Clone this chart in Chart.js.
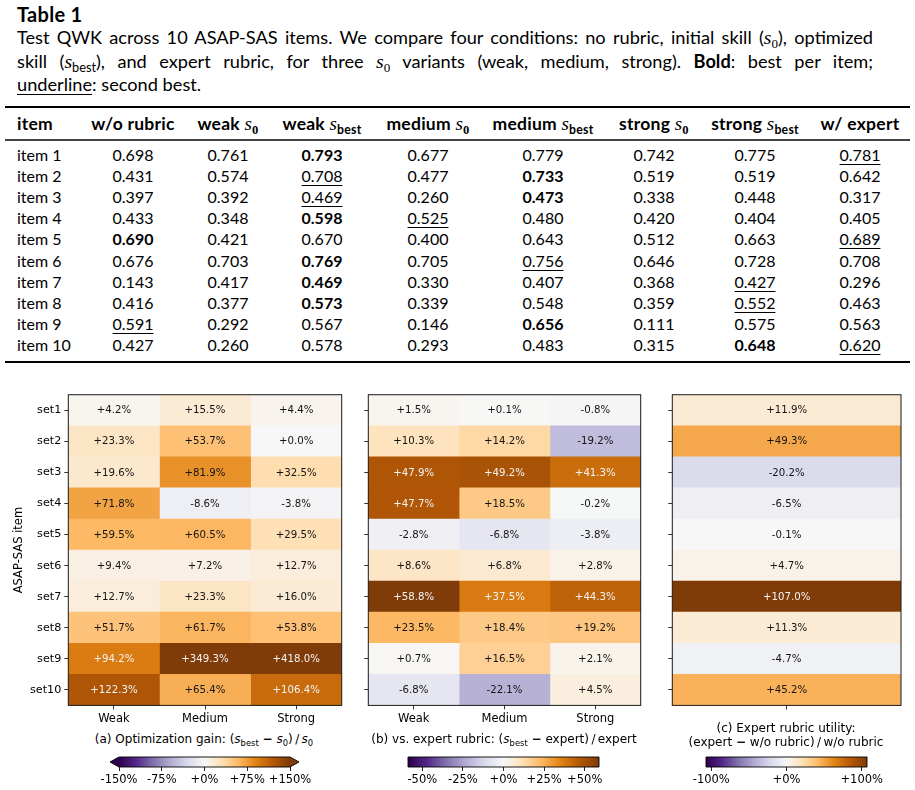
<!DOCTYPE html>
<html><head><meta charset="utf-8">
<script src="https://cdn.jsdelivr.net/npm/chart.js@4.4.1/dist/chart.umd.min.js"></script>
<style>
html,body{margin:0;padding:0;background:#fff;}
#page{position:relative;width:915px;height:790px;overflow:hidden;font-family:Lato,"Open Sans",sans-serif;color:#000;}
.abs{position:absolute;white-space:nowrap;}
.cap{position:absolute;left:17px;width:856px;font-size:18.2px;line-height:23px;text-align:justify;text-align-last:justify;}
.cap.last{text-align-last:left;}
.m{font-family:"Liberation Serif","DejaVu Serif",serif;font-style:italic;font-size:1.08em;}
.sub0{font-family:"Liberation Serif",serif;font-style:normal;font-size:0.72em;vertical-align:-0.28em;}
.subb{font-size:0.7em;vertical-align:-0.3em;}
.rule{position:absolute;left:5px;width:905px;background:#000;}
.cell{position:absolute;height:22px;line-height:22px;font-size:16px;white-space:nowrap;transform:translateX(-50%);}
.cell.left{transform:none;}
.hdr{font-weight:bold;font-size:17.5px;letter-spacing:0.25px;}
.hdr .m{font-weight:normal;}
.und{text-decoration:underline;text-decoration-thickness:1px;text-underline-offset:3px;}
canvas{position:absolute;}
.ptitle{position:absolute;font-family:"DejaVu Sans",sans-serif;font-size:12px;line-height:14px;text-align:center;white-space:nowrap;color:#000;}
.ptitle i{font-style:oblique;}
.ptitle sub{font-size:0.7em;vertical-align:-0.3em;line-height:0;}
.mn{font-weight:bold;}
</style>
</head><body>
<div id="page">
  <div class="abs" style="left:17px;top:2px;font-size:20px;font-weight:bold;line-height:24px;letter-spacing:0.3px;">Table 1</div>
  <div class="cap" style="top:26px;">Test QWK across 10 ASAP-SAS items. We compare four conditions: no rubric, initial skill (<span class="m">s</span><span class="sub0">0</span>), optimized</div>
  <div class="cap" style="top:49.5px;">skill (<span class="m">s</span><span class="subb">best</span>), and expert rubric, for three <span class="m">s</span><span class="sub0">0</span> variants (weak, medium, strong). <b>Bold</b>: best per item;</div>
  <div class="cap last" style="top:73px;"><span class="und">underline</span>: second best.</div>
  <div class="rule" style="top:106px;height:2px;"></div>
  <div class="rule" style="top:139px;height:1.5px;background:#444;"></div>
  <div class="rule" style="top:360.5px;height:2px;"></div>
  <div id="table"></div>

  <canvas id="heatA" width="350" height="346" style="left:0px;top:385px;"></canvas>
  <canvas id="heatB" width="300" height="346" style="left:350px;top:385px;"></canvas>
  <canvas id="heatC" width="265" height="346" style="left:650px;top:385px;"></canvas>

  <div class="ptitle" style="left:54px;width:300px;top:732px;">(a) Optimization gain: (<i>s</i><sub>best</sub> <span class="mn">−</span> <i>s</i><sub>0</sub>)&#8201;/&#8201;<i>s</i><sub>0</sub></div>
  <div class="ptitle" style="left:354px;width:300px;top:732px;">(b) vs. expert rubric: (<i>s</i><sub>best</sub> <span class="mn">−</span> expert)&#8201;/&#8201;expert</div>
  <div class="ptitle" style="left:636px;width:300px;top:721px;">(c) Expert rubric utility:<br>(expert <span class="mn">−</span> w/o rubric)&#8201;/&#8201;w/o rubric</div>

  <canvas id="cbarA" width="230" height="40" style="left:90px;top:750px;"></canvas>
  <canvas id="cbarB" width="250" height="40" style="left:380px;top:750px;"></canvas>
  <canvas id="cbarC" width="215" height="40" style="left:680px;top:750px;"></canvas>
</div>
<script>
// ---------------- DATA ----------------
const tableItems = ['item 1','item 2','item 3','item 4','item 5','item 6','item 7','item 8','item 9','item 10'];
const colWoRubric   = [0.698,0.431,0.397,0.433,0.690,0.676,0.143,0.416,0.591,0.427];
const colWeakS0     = [0.761,0.574,0.392,0.348,0.421,0.703,0.417,0.377,0.292,0.260];
const colWeakBest   = [0.793,0.708,0.469,0.598,0.670,0.769,0.469,0.573,0.567,0.578];
const colMediumS0   = [0.677,0.477,0.260,0.525,0.400,0.705,0.330,0.339,0.146,0.293];
const colMediumBest = [0.779,0.733,0.473,0.480,0.643,0.756,0.407,0.548,0.656,0.483];
const colStrongS0   = [0.742,0.519,0.338,0.420,0.512,0.646,0.368,0.359,0.111,0.315];
const colStrongBest = [0.775,0.519,0.448,0.404,0.663,0.728,0.427,0.552,0.575,0.648];
const colExpert     = [0.781,0.642,0.317,0.405,0.689,0.708,0.296,0.463,0.563,0.620];

const sets = ['set1','set2','set3','set4','set5','set6','set7','set8','set9','set10'];
const variants = ['Weak','Medium','Strong'];
const gainWeak   = [4.2, 23.3, 19.6, 71.8, 59.5, 9.4, 12.7, 51.7, 94.2, 122.3];
const gainMedium = [15.5, 53.7, 81.9, -8.6, 60.5, 7.2, 23.3, 61.7, 349.3, 65.4];
const gainStrong = [4.4, 0.0, 32.5, -3.8, 29.5, 12.7, 16.0, 53.8, 418.0, 106.4];
const vsExpertWeak   = [1.5, 10.3, 47.9, 47.7, -2.8, 8.6, 58.8, 23.5, 0.7, -6.8];
const vsExpertMedium = [0.1, 14.2, 49.2, 18.5, -6.8, 6.8, 37.5, 18.4, 16.5, -22.1];
const vsExpertStrong = [-0.8, -19.2, 41.3, -0.2, -3.8, 2.8, 44.3, 19.2, 2.1, 4.5];
const expertUtility  = [11.9, 49.3, -20.2, -6.5, -0.1, 4.7, 107.0, 11.3, -4.7, 45.2];
const gainTicks = [-150, -75, 0, 75, 150];
const vsExpertTicks = [-50, -25, 0, 25, 50];
const utilityTicks = [-100, 0, 100];

// ---------------- TABLE ----------------
const tableCols = [colWoRubric, colWeakS0, colWeakBest, colMediumS0, colMediumBest, colStrongS0, colStrongBest, colExpert];
const headerHtml = ['w/o rubric',
  'weak <span class="m">s</span><span class="sub0">0</span>',
  'weak <span class="m">s</span><span class="subb">best</span>',
  'medium <span class="m">s</span><span class="sub0">0</span>',
  'medium <span class="m">s</span><span class="subb">best</span>',
  'strong <span class="m">s</span><span class="sub0">0</span>',
  'strong <span class="m">s</span><span class="subb">best</span>',
  'w/ expert'];
const colCenters = [133, 228, 322, 428, 543, 654, 755, 860];
(function buildTable(){
  const t = document.getElementById('table');
  let html = '';
  const hy = 112.5;
  html += `<div class="cell left hdr" style="left:17px;top:${hy}px;">item</div>`;
  headerHtml.forEach((h,j)=>{ html += `<div class="cell hdr" style="left:${colCenters[j]}px;top:${hy}px;">${h}</div>`; });
  tableItems.forEach((it,i)=>{
    const y = 144 + i*21.1;
    html += `<div class="cell left" style="left:17px;top:${y}px;">${it}</div>`;
    const vals = tableCols.map(c=>c[i]);
    const sorted = [...new Set(vals)].sort((a,b)=>b-a);
    vals.forEach((v,j)=>{
      let cls = 'cell';
      let st = '';
      if (v === sorted[0]) st = 'font-weight:bold;';
      else if (v === sorted[1]) cls += ' und';
      html += `<div class="${cls}" style="left:${colCenters[j]}px;top:${y}px;${st}">${v.toFixed(3)}</div>`;
    });
  });
  t.innerHTML = html;
})();

// ---------------- COLORMAP (PuOr reversed) ----------------
const puorStops = ['#2d004b','#542788','#8073ac','#b2abd2','#d8daeb','#f7f7f7','#fee0b6','#fdb863','#e08214','#b35806','#7f3b08'];
function hex2rgb(h){return [parseInt(h.slice(1,3),16),parseInt(h.slice(3,5),16),parseInt(h.slice(5,7),16)];}
const puorRgb = puorStops.map(hex2rgb);
function cmap(t){
  t = Math.max(0, Math.min(1, t));
  const p = t*(puorRgb.length-1);
  const i = Math.min(Math.floor(p), puorRgb.length-2);
  const f = p - i;
  const a = puorRgb[i], b = puorRgb[i+1];
  return `rgb(${Math.round(a[0]+(b[0]-a[0])*f)},${Math.round(a[1]+(b[1]-a[1])*f)},${Math.round(a[2]+(b[2]-a[2])*f)})`;
}
function pct(v){ return (v < 0 ? '-' : '+') + Math.abs(v).toFixed(1) + '%'; }

Chart.defaults.font.family = '"DejaVu Sans", sans-serif';
Chart.defaults.color = '#000';

const cellLabels = {
  id: 'cellLabels',
  afterDatasetsDraw(chart, args, opts){
    const ctx = chart.ctx;
    ctx.save();
    ctx.font = '10.2px "DejaVu Sans"';
    ctx.textAlign = 'center';
    ctx.textBaseline = 'middle';
    chart.data.datasets.forEach((ds, j)=>{
      const meta = chart.getDatasetMeta(j);
      meta.data.forEach((el, i)=>{
        const v = ds.values[i];
        const p = el.getProps(['x','y','base'], true);
        ctx.fillStyle = Math.abs(v)/opts.vmax > 0.6 ? '#f4f4f4' : '#141414';
        ctx.fillText(pct(v), (p.x + p.base)/2, p.y + 0.5);
      });
    });
    ctx.restore();
  }
};
const frame = {
  id: 'frame',
  afterDraw(chart){
    const a = chart.chartArea, ctx = chart.ctx;
    ctx.save();
    ctx.strokeStyle = '#1a1a1a';
    ctx.lineWidth = 1;
    ctx.strokeRect(a.left, a.top, a.right - a.left, a.bottom - a.top);
    ctx.restore();
  }
};

function heatmap(id, columns, colValues, vmax, cfg){
  const datasets = colValues.map((vals, j)=>({
    label: columns[j] || '',
    data: vals.map(()=>1),
    values: vals,
    backgroundColor: vals.map(v => cmap(0.5 + v/(2*vmax))),
    borderWidth: 0,
    barPercentage: 1,
    categoryPercentage: 1
  }));
  const plotH = 312.4;
  return new Chart(document.getElementById(id), {
    type: 'bar',
    data: { labels: sets, datasets },
    options: {
      indexAxis: 'y',
      responsive: false,
      animation: false,
      devicePixelRatio: 1,
      layout: { padding: { top: 8, right: cfg.padRight, left: 0, bottom: 0 } },
      plugins: { legend: { display: false }, tooltip: { enabled: false }, cellLabels: { vmax } },
      scales: {
        x: {
          type: 'linear', stacked: true, min: 0, max: colValues.length,
          afterBuildTicks: s => { s.ticks = colValues.map((c,i)=>({ value: i + 0.5 })); },
          afterFit: s => { s.height = 346 - 8 - plotH; },
          ticks: { autoSkip: false, maxRotation: 0, padding: 3, font: { size: 11.5 }, color: '#000',
                   callback: (v, i) => columns[i] || '' },
          grid: { drawOnChartArea: false, drawTicks: true, tickLength: 4, color: '#333', tickColor: '#333' },
          border: { display: false }
        },
        y: {
          type: 'category', stacked: true,
          afterFit: s => { s.width = cfg.yWidth; },
          ticks: { padding: 3, font: { size: 11.2 }, color: '#000',
                   callback: function(v, i){ return cfg.yLabels ? this.getLabelForValue(v) : ''; } },
          grid: { offset: false, drawOnChartArea: false, drawTicks: true, tickLength: 4, color: '#333', tickColor: '#333' },
          border: { display: false },
          title: { display: !!cfg.yTitle, text: cfg.yTitle || '', font: { size: 11.5 }, color: '#000', padding: { top: 12, bottom: 0 } }
        }
      }
    },
    plugins: [cellLabels, frame]
  });
}

heatmap('heatA', variants, [gainWeak, gainMedium, gainStrong], 150,
  { padRight: 8.3, yWidth: 68.3, yLabels: true, yTitle: 'ASAP-SAS item' });
heatmap('heatB', variants, [vsExpertWeak, vsExpertMedium, vsExpertStrong],
  Math.max(...[vsExpertWeak, vsExpertMedium, vsExpertStrong].flat().map(Math.abs)),
  { padRight: 9.3, yWidth: 18.3, yLabels: false });
heatmap('heatC', [''], [expertUtility], Math.max(...expertUtility.map(Math.abs)),
  { padRight: 14, yWidth: 22.3, yLabels: false });

// ---------------- COLORBARS ----------------
const cbarPlugin = {
  id: 'cbar',
  beforeDatasetsDraw(chart, args, opts){
    const a = chart.chartArea, ctx = chart.ctx;
    const g = ctx.createLinearGradient(a.left, 0, a.right, 0);
    puorStops.forEach((c,i)=> g.addColorStop(i/(puorStops.length-1), c));
    ctx.save();
    ctx.fillStyle = g;
    ctx.fillRect(a.left, a.top, a.right - a.left, a.bottom - a.top);
    const mid = (a.top + a.bottom)/2, tri = 9;
    if (opts.extend){
      ctx.fillStyle = puorStops[0];
      ctx.beginPath(); ctx.moveTo(a.left, a.top); ctx.lineTo(a.left - tri, mid); ctx.lineTo(a.left, a.bottom); ctx.closePath(); ctx.fill();
      ctx.fillStyle = puorStops[puorStops.length-1];
      ctx.beginPath(); ctx.moveTo(a.right, a.top); ctx.lineTo(a.right + tri, mid); ctx.lineTo(a.right, a.bottom); ctx.closePath(); ctx.fill();
    }
    ctx.strokeStyle = '#000';
    ctx.lineWidth = 0.9;
    ctx.beginPath();
    if (opts.extend){
      ctx.moveTo(a.left - tri, mid); ctx.lineTo(a.left, a.top); ctx.lineTo(a.right, a.top);
      ctx.lineTo(a.right + tri, mid); ctx.lineTo(a.right, a.bottom); ctx.lineTo(a.left, a.bottom); ctx.closePath();
    } else {
      ctx.rect(a.left, a.top, a.right - a.left, a.bottom - a.top);
    }
    ctx.stroke();
    ctx.restore();
  }
};
function colorbar(id, vmax, ticks, extend, padL, padR){
  const el = document.getElementById(id);
  return new Chart(el, {
    type: 'scatter',
    data: { datasets: [{ data: [] }] },
    options: {
      responsive: false, animation: false, devicePixelRatio: 1,
      layout: { padding: { left: padL, right: padR, top: 7, bottom: 0 } },
      plugins: { legend: { display: false }, tooltip: { enabled: false }, cbar: { extend } },
      scales: {
        x: {
          type: 'linear', min: -vmax, max: vmax,
          afterBuildTicks: s => { s.ticks = ticks.map(v => ({ value: v })); },
          afterFit: s => { s.height = el.height - 7 - 10; },
          ticks: { autoSkip: false, maxRotation: 0, padding: 2, font: { size: 11.5 }, color: '#000',
                   callback: v => (v < 0 ? '-' : '+') + Math.abs(v) + '%' },
          grid: { drawOnChartArea: false, drawTicks: true, tickLength: 4, color: '#222', tickColor: '#222' },
          border: { display: false }
        },
        y: { display: false, min: 0, max: 1 }
      }
    },
    plugins: [cbarPlugin]
  });
}
colorbar('cbarA', 150, gainTicks, true, 29, 30);
colorbar('cbarB', Math.max(...[vsExpertWeak, vsExpertMedium, vsExpertStrong].flat().map(Math.abs)), vsExpertTicks, false, 28, 31);
colorbar('cbarC', Math.max(...expertUtility.map(Math.abs)), utilityTicks, false, 26, 28);
</script>
</body></html>
